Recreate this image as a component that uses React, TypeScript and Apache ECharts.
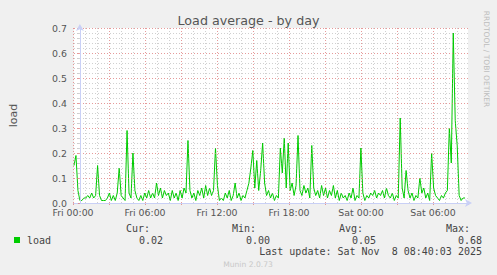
import React, { useEffect, useRef } from "react";
import * as echarts from "echarts";

// Samples every 10 minutes, first sample at Thu 23:30 (minutes relative to Fri 00:00)
const START_MIN = -30;
const STEP_MIN = 10;
const loadValues: number[] = [
  0.15, 0.19, 0.05, 0.01, 0.01, 0.02, 0.02, 0.03, 0.02, 0.04,
  0.02, 0.03, 0.15, 0.03, 0.01, 0.01, 0.01, 0.02, 0.04, 0.01,
  0.03, 0.01, 0.04, 0.14, 0.03, 0.02, 0.01, 0.29, 0.04, 0.02,
  0.2, 0.05, 0.02, 0.01, 0.03, 0.01, 0.04, 0.02, 0.05, 0.02,
  0.04, 0.02, 0.08, 0.03, 0.06, 0.02, 0.05, 0.03, 0.04, 0.01,
  0.05, 0.02, 0.04, 0.01, 0.05, 0.02, 0.06, 0.04, 0.25, 0.05,
  0.02, 0.04, 0.01, 0.05, 0.03, 0.06, 0.02, 0.07, 0.03, 0.06,
  0.03, 0.05, 0.22, 0.07, 0.01, 0.02, 0.01, 0.04, 0.02, 0.05,
  0.01, 0.03, 0.08, 0.02, 0.04, 0.01, 0.03, 0.02, 0.05, 0.08,
  0.14, 0.21, 0.06, 0.17, 0.05, 0.13, 0.24, 0.08, 0.03, 0.05,
  0.02, 0.04, 0.01, 0.03, 0.02, 0.22, 0.12, 0.26, 0.06, 0.24,
  0.05, 0.08, 0.03, 0.07, 0.27, 0.05, 0.03, 0.07, 0.04, 0.06,
  0.02, 0.23, 0.06, 0.03, 0.05, 0.02, 0.07, 0.03, 0.06, 0.02,
  0.05, 0.03, 0.07, 0.02, 0.05, 0.01, 0.04, 0.02, 0.03, 0.01,
  0.04, 0.02, 0.06, 0.01, 0.03, 0.02, 0.22, 0.04, 0.01, 0.03,
  0.02, 0.04, 0.03, 0.05, 0.02, 0.04, 0.03, 0.05, 0.02, 0.06,
  0.03, 0.02, 0.04, 0.01, 0.03, 0.02, 0.34, 0.06, 0.02, 0.13,
  0.05, 0.02, 0.04, 0.01, 0.03, 0.02, 0.1, 0.04, 0.06, 0.02,
  0.04, 0.01, 0.2, 0.06, 0.03, 0.02, 0.01, 0.03, 0.02, 0.04,
  0.05, 0.3, 0.16, 0.68, 0.33, 0.23, 0.03, 0.01, 0.02, 0.02,
];

const X_MIN = -30; // Thu 23:30
const X_MAX = 1975; // Sat 08:55
const DAY_NAMES = ["Fri", "Sat"];
const Y_TICKS = [0, 0.1, 0.2, 0.3, 0.4, 0.5, 0.6, 0.7];

const legendHeaders = ["Cur:", "Min:", "Avg:", "Max:"];
const legendValues = ["0.02", "0.00", "0.05", "0.68"];
const seriesName = "load";
const lastUpdate = "Last update: Sat Nov  8 08:40:03 2025";

const MGRID = "rgba(222,120,120,0.75)";
const GRID = "rgba(150,150,150,0.45)";
const AXIS = "#C9D0F6";
const FONT = "#555555";

export default function App() {
  const ref = useRef<HTMLDivElement>(null);

  useEffect(() => {
    if (!ref.current) return;
    const chart = echarts.init(ref.current, undefined, { renderer: "svg" });
    const data = loadValues.map((v, i) => [START_MIN + i * STEP_MIN, v]);

    const headerRight = [150, 256, 363, 470];
    const valueRight = [163, 270, 376, 482];

    const graphics: any[] = [
      {
        type: "text",
        x: 486.5,
        y: 59,
        rotation: -Math.PI / 2,
        style: {
          text: "RRDTOOL / TOBI OETIKER",
          fill: "#BDBDBD",
          fontSize: 7.5,
          fontFamily: "DejaVu Sans",
          textAlign: "center",
          textVerticalAlign: "middle",
        },
      },
      {
        type: "rect",
        shape: { x: 14, y: 237, width: 6, height: 6 },
        style: { fill: "#00CC00" },
      },
      {
        type: "text",
        x: 27,
        y: 240,
        style: {
          text: seriesName,
          fill: "#444",
          fontSize: 10,
          fontFamily: "DejaVu Sans Mono",
          textAlign: "left",
          textVerticalAlign: "middle",
        },
      },
      ...legendHeaders.map((h, i) => ({
        type: "text",
        x: headerRight[i],
        y: 228,
        style: {
          text: h,
          fill: "#444",
          fontSize: 10,
          fontFamily: "DejaVu Sans Mono",
          textAlign: "right",
          textVerticalAlign: "middle",
        },
      })),
      ...legendValues.map((v, i) => ({
        type: "text",
        x: valueRight[i],
        y: 240,
        style: {
          text: v,
          fill: "#444",
          fontSize: 10,
          fontFamily: "DejaVu Sans Mono",
          textAlign: "right",
          textVerticalAlign: "middle",
        },
      })),
      {
        type: "text",
        x: 482,
        y: 251.5,
        style: {
          text: lastUpdate,
          fill: "#444",
          fontSize: 10,
          fontFamily: "DejaVu Sans Mono",
          textAlign: "right",
          textVerticalAlign: "middle",
        },
      },
      {
        type: "text",
        x: 248,
        y: 264,
        style: {
          text: "Munin 2.0.73",
          fill: "#C8C8C8",
          fontSize: 7.6,
          fontFamily: "DejaVu Sans",
          textAlign: "center",
          textVerticalAlign: "middle",
        },
      },
    ];

    chart.setOption({
      animation: false,
      backgroundColor: "#F0F0F0",
      title: {
        text: "Load average - by day",
        left: "center",
        top: 9,
        textStyle: {
          fontSize: 12.7,
          fontWeight: "normal",
          fontFamily: "DejaVu Sans",
          color: FONT,
        },
      },
      grid: [
        {
          left: 67,
          right: 29,
          top: 28,
          bottom: 72,
          show: true,
          backgroundColor: "#FFFFFF",
          borderWidth: 0,
        },
        { left: 73, right: 29, top: 28, bottom: 72, show: false },
      ],
      xAxis: [
        {
          type: "value",
          gridIndex: 0,
          min: X_MIN,
          max: X_MAX,
          axisLabel: { show: false },
          axisTick: { show: false },
          splitLine: { show: false },
          axisLine: {
            show: true,
            lineStyle: { color: AXIS, width: 1 },
            symbol: ["none", "arrow"],
            symbolSize: [6, 7],
            symbolOffset: [0, 4],
          },
          z: 5,
        },
        {
          type: "value",
          gridIndex: 1,
          min: 0,
          max: X_MAX,
          interval: 180,
          axisLine: { show: false },
          axisTick: { show: true, length: 2, lineStyle: { color: MGRID } },
          minorTick: { show: true, splitNumber: 3, length: 0 },
          splitLine: {
            show: true,
            showMaxLine: false,
            lineStyle: { color: MGRID, type: [1, 2], width: 1 },
          },
          minorSplitLine: {
            show: true,
            lineStyle: { color: GRID, type: [1, 2], width: 1 },
          },
          axisLabel: {
            show: true,
            showMaxLabel: false,
            margin: 5,
            fontSize: 9.4,
            lineHeight: 9,
            fontFamily: "DejaVu Sans",
            color: FONT,
            formatter: (v: number) => {
              if (v % 360 !== 0 || v >= X_MAX) return "";
              const day = DAY_NAMES[Math.floor(v / 1440)];
              const m = v % 1440;
              const hh = String(Math.floor(m / 60)).padStart(2, "0");
              const mm = String(m % 60).padStart(2, "0");
              return `${day} ${hh}:${mm}`;
            },
          },
        },
      ],
      yAxis: [
        {
          type: "value",
          gridIndex: 0,
          min: Y_TICKS[0],
          max: Y_TICKS[Y_TICKS.length - 1],
          interval: 0.1,
          name: "load",
          nameLocation: "middle",
          nameGap: 55,
          nameRotate: 90,
          nameTextStyle: {
            fontSize: 11,
            fontFamily: "DejaVu Sans",
            color: FONT,
          },
          axisLine: {
            show: true,
            lineStyle: { color: AXIS, width: 1 },
            symbol: ["none", "arrow"],
            symbolSize: [6, 7],
            symbolOffset: [0, 4],
          },
          axisTick: { show: true, length: 2, lineStyle: { color: MGRID } },
          minorTick: { show: true, splitNumber: 5, length: 2, lineStyle: { color: GRID } },
          splitLine: {
            show: true,
            lineStyle: { color: MGRID, type: [1, 2], width: 1 },
          },
          minorSplitLine: {
            show: true,
            lineStyle: { color: GRID, type: [1, 2], width: 1 },
          },
          axisLabel: {
            margin: 7,
            fontSize: 9.4,
            lineHeight: 9,
            fontFamily: "DejaVu Sans",
            color: FONT,
            formatter: (v: number) => v.toFixed(1),
          },
          z: 5,
        },
        {
          type: "value",
          gridIndex: 1,
          min: 0,
          max: 0.7,
          show: false,
        },
      ],
      series: [
        {
          name: seriesName,
          type: "line",
          xAxisIndex: 0,
          yAxisIndex: 0,
          data,
          symbol: "none",
          lineStyle: { color: "#00CC00", width: 1 },
          z: 3,
        },
      ],
      graphic: graphics,
    });

    return () => chart.dispose();
  }, []);

  return (
    <div
      ref={ref}
      style={{ position: "fixed", left: 0, top: 0, width: 497, height: 275 }}
    />
  );
}
